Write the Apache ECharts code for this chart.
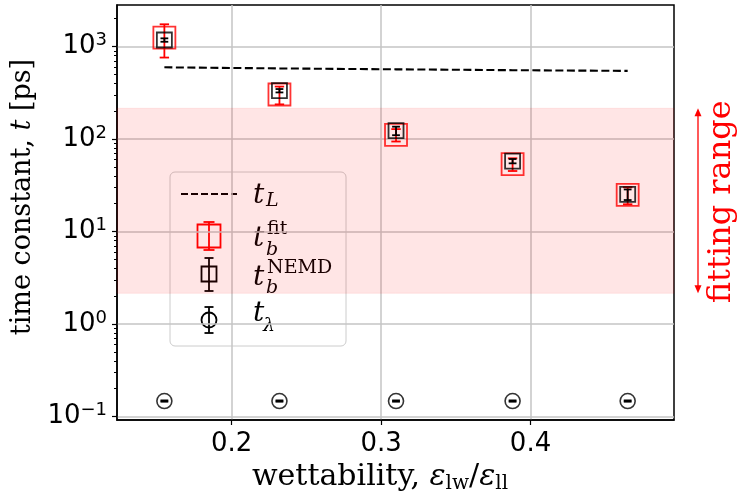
<!DOCTYPE html>
<html>
<head>
<meta charset="utf-8">
<script src="https://cdn.jsdelivr.net/npm/echarts@6/dist/echarts.min.js"></script>
<style>
  html, body { margin: 0; padding: 0; background: #fff; }
  #chart { width: 740px; height: 501px; }
</style>
</head>
<body>
<div id="chart"></div>
<script>
// wettability ratio eps_lw / eps_ll for each simulated wall
const wettability = [0.155, 0.232, 0.310, 0.388, 0.465];
// t_L : dashed reference line
const tL = [596, 580, 567, 555, 545];
// t_b from fitting (value, error)
const tbFit = [1250, 303, 111, 53.5, 24.9];
const tbFitErr = [490, 66, 17, 8.4, 5.2];
// t_b from NEMD (value, error)
const tbNemd = [1176, 333, 123, 57.7, 25.2];
const tbNemdErr = [50, 14, 13, 3.1, 3.3];
// t_lambda (value, error)
const tLambda = [0.147, 0.147, 0.147, 0.147, 0.147];
const tLambdaErr = [0.002, 0.002, 0.002, 0.002, 0.002];
// range of time constants used in the fit
const fittingRange = [2.15, 215];
// axis ticks
const xTicks = [0.2, 0.3, 0.4];
const yTicks = [0.1, 1, 10, 100, 1000];
const yMinorTicks = [0.2, 0.3, 0.4, 0.5, 0.6, 0.7, 0.8, 0.9,
  2, 3, 4, 5, 6, 7, 8, 9, 20, 30, 40, 50, 60, 70, 80, 90,
  200, 300, 400, 500, 600, 700, 800, 900, 2000];
const xRange = [0.1233, 0.496];
const yRange = [0.0917, 2812];

const RED = '#ff0000';
const BLACK = '#000000';
const SERIF = '"DejaVu Serif", serif';
const SANS = '"DejaVu Sans", sans-serif';

function withErr(values, errs) {
  return wettability.map((x, i) => [x, values[i], errs[i]]);
}

function errorBar(color, capHalf, lw) {
  return function (params, api) {
    const x = api.value(0), y = api.value(1), e = api.value(2);
    const top = api.coord([x, y + e]);
    const bot = api.coord([x, y - e]);
    const st = { stroke: color, lineWidth: lw };
    return {
      type: 'group',
      children: [
        { type: 'line', shape: { x1: top[0], y1: top[1], x2: bot[0], y2: bot[1] }, style: st },
        { type: 'line', shape: { x1: top[0] - capHalf, y1: top[1], x2: top[0] + capHalf, y2: top[1] }, style: st },
        { type: 'line', shape: { x1: bot[0] - capHalf, y1: bot[1], x2: bot[0] + capHalf, y2: bot[1] }, style: st }
      ]
    };
  };
}

// vertical double arrow + label beside the plot marking the fitting range
function rangeArrow(params, api) {
  const lo = api.coord([api.value(0), api.value(1)]);
  const hi = api.coord([api.value(0), api.value(2)]);
  const cs = params.coordSys;
  const ax = cs.x + cs.width + 24;
  const yTop = hi[1], yBot = lo[1];
  const head = 8, hw = 3.5;
  return {
    type: 'group',
    children: [
      { type: 'line', shape: { x1: ax, y1: yTop + 3, x2: ax, y2: yBot - 3 }, style: { stroke: RED, lineWidth: 1.3 } },
      { type: 'polygon', shape: { points: [[ax, yTop], [ax - hw, yTop + head], [ax + hw, yTop + head]] }, style: { fill: RED } },
      { type: 'polygon', shape: { points: [[ax, yBot], [ax - hw, yBot - head], [ax + hw, yBot - head]] }, style: { fill: RED } },
      {
        type: 'text', x: ax + 24, y: (yTop + yBot) / 2 + 1, rotation: Math.PI / 2,
        style: { text: 'fitting range', fill: RED, fontSize: 32, fontFamily: SERIF, align: 'center', verticalAlign: 'middle' }
      }
    ]
  };
}

function supLabel(v) {
  const e = Math.round(Math.log10(v));
  return '{b|10}{s|' + (e < 0 ? '\u2212' + (-e) : e) + '}';
}

// hand-drawn legend box
function legendGraphic() {
  const lx = 209;
  const items = [];
  items.push({ type: 'rect', shape: { x: 170, y: 172, width: 176, height: 174, r: 5 },
    style: { fill: 'rgba(255,255,255,0.8)', stroke: '#cccccc', lineWidth: 1 } });
  // dashed line
  items.push({ type: 'line', shape: { x1: 181, y1: 194, x2: 237, y2: 194 },
    style: { stroke: BLACK, lineWidth: 2, lineDash: [7, 3] } });
  const bar = (cx, y1, y2, cap, color) => [
    { type: 'line', shape: { x1: cx, y1: y1, x2: cx, y2: y2 }, style: { stroke: color, lineWidth: 1.8 } },
    { type: 'line', shape: { x1: cx - cap, y1: y1, x2: cx + cap, y2: y1 }, style: { stroke: color, lineWidth: 1.8 } },
    { type: 'line', shape: { x1: cx - cap, y1: y2, x2: cx + cap, y2: y2 }, style: { stroke: color, lineWidth: 1.8 } }
  ];
  // red square with bar
  items.push({ type: 'rect', shape: { x: lx - 11.5, y: 236 - 11.5, width: 23, height: 23 },
    style: { fill: 'none', stroke: RED, lineWidth: 1.8 } });
  items.push(...bar(lx, 222, 250, 5.5, RED));
  // black square with bar
  items.push({ type: 'rect', shape: { x: lx - 7.5, y: 274 - 7.5, width: 15, height: 15 },
    style: { fill: 'none', stroke: BLACK, lineWidth: 1.8 } });
  items.push(...bar(lx, 258, 291, 4.5, BLACK));
  // circle with bar
  items.push({ type: 'circle', shape: { cx: lx, cy: 320, r: 7.5 },
    style: { fill: 'none', stroke: BLACK, lineWidth: 1.8 } });
  items.push(...bar(lx, 307, 333, 4.5, BLACK));

  const txt = (x, y, s, size, italic) => ({
    type: 'text', x: x, y: y,
    style: { text: s, fill: BLACK, fontSize: size, fontFamily: SERIF,
      fontStyle: italic ? 'italic' : 'normal', align: 'left', verticalAlign: 'middle' }
  });
  items.push(txt(253, 196, 't', 28, true), txt(266, 201, 'L', 19, true));
  items.push(txt(253, 239, 't', 28, true), txt(266, 250, 'b', 19, true), txt(267, 229, 'fit', 19, false));
  items.push(txt(253, 278, 't', 28, true), txt(266, 288, 'b', 19, true), txt(267, 268, 'NEMD', 19, false));
  items.push(txt(253, 314, 't', 28, true), txt(263, 326, '\u03bb', 19, true));
  return items;
}

const chart = echarts.init(document.getElementById('chart'), null, { renderer: 'canvas' });

chart.setOption({
  animation: false,
  backgroundColor: '#ffffff',
  grid: {
    left: 117, right: 66, top: 5, bottom: 81,
    show: true, borderColor: BLACK, borderWidth: 1.5, backgroundColor: 'transparent'
  },
  xAxis: {
    type: 'value',
    min: xRange[0], max: xRange[1],
    name: '{r|wettability, }{i|\u03b5}{s|lw}{r|/}{i|\u03b5}{s|ll}',
    nameLocation: 'middle',
    nameGap: 38,
    nameTextStyle: {
      padding: [0, 31, 0, 0],
      rich: {
        r: { fontFamily: SERIF, fontSize: 30, color: BLACK, lineHeight: 33 },
        i: { fontFamily: SERIF, fontStyle: 'italic', fontSize: 30, color: BLACK, lineHeight: 33 },
        s: { fontFamily: SERIF, fontSize: 20, color: BLACK, lineHeight: 25, verticalAlign: 'bottom' }
      }
    },
    axisLine: { lineStyle: { color: BLACK, width: 1.5 } },
    axisTick: { customValues: xTicks, length: 5, lineStyle: { color: BLACK, width: 1.2 } },
    axisLabel: { customValues: xTicks, fontFamily: SANS, fontSize: 26, color: BLACK, margin: 11,
      formatter: v => v.toFixed(1) },
    splitLine: { show: true, lineStyle: { color: '#c4c4c4', width: 1.5 } }
  },
  yAxis: [{
    type: 'log',
    logBase: 10,
    min: yRange[0], max: yRange[1],
    name: '{r|time constant, }{i|t}{r| [ps]}',
    nameLocation: 'middle',
    nameGap: 76,
    nameTextStyle: {
      padding: [0, 0, 0, 31],
      rich: {
        r: { fontFamily: SERIF, fontSize: 27, color: BLACK },
        i: { fontFamily: SERIF, fontStyle: 'italic', fontSize: 27, color: BLACK }
      }
    },
    axisLine: { lineStyle: { color: BLACK, width: 1.5 } },
    axisTick: { customValues: yTicks, length: 5, lineStyle: { color: BLACK, width: 1.2 } },
    axisLabel: {
      customValues: yTicks, margin: 10,
      formatter: supLabel,
      rich: {
        b: { fontFamily: SANS, fontSize: 26, color: BLACK, lineHeight: 30 },
        s: { fontFamily: SANS, fontSize: 18, color: BLACK, lineHeight: 18, verticalAlign: 'top' }
      }
    },
    splitLine: { show: true, lineStyle: { color: '#c4c4c4', width: 1.5 } }
  }, {
    type: 'log',
    logBase: 10,
    min: yRange[0], max: yRange[1],
    position: 'left',
    axisLine: { show: false },
    axisTick: { customValues: yMinorTicks, length: 3, lineStyle: { color: BLACK, width: 1 } },
    axisLabel: { show: false },
    splitLine: { show: false }
  }],
  series: [
    {
      name: 'fitting range',
      type: 'custom',
      z: 1,
      clip: false,
      renderItem: rangeArrow,
      encode: { x: 0, y: [1, 2] },
      data: [[0.3, fittingRange[0], fittingRange[1]]],
      markArea: {
        silent: true,
        itemStyle: { color: 'rgba(255,0,0,0.1)', borderColor: 'rgba(255,0,0,0.08)', borderWidth: 1 },
        data: [[{ yAxis: fittingRange[0] }, { yAxis: fittingRange[1] }]]
      }
    },
    {
      name: 't_L',
      type: 'line',
      z: 3,
      showSymbol: false,
      symbol: 'none',
      lineStyle: { color: BLACK, width: 2.1, type: [8, 3.5] },
      data: wettability.map((x, i) => [x, tL[i]])
    },
    {
      name: 't_b fit error',
      type: 'custom',
      z: 4,
      renderItem: errorBar(RED, 4.7, 1.8),
      encode: { x: 0, y: 1 },
      data: withErr(tbFit, tbFitErr)
    },
    {
      name: 't_b fit',
      type: 'scatter',
      z: 4,
      symbol: 'rect',
      symbolSize: 22,
      itemStyle: { color: 'transparent', borderColor: RED, borderWidth: 1.8 },
      data: wettability.map((x, i) => [x, tbFit[i]])
    },
    {
      name: 't_b NEMD error',
      type: 'custom',
      z: 5,
      renderItem: errorBar(BLACK, 3.9, 1.8),
      encode: { x: 0, y: 1 },
      data: withErr(tbNemd, tbNemdErr)
    },
    {
      name: 't_b NEMD',
      type: 'scatter',
      z: 5,
      symbol: 'rect',
      symbolSize: 15,
      itemStyle: { color: 'transparent', borderColor: BLACK, borderWidth: 1.8 },
      data: wettability.map((x, i) => [x, tbNemd[i]])
    },
    {
      name: 't_lambda error',
      type: 'custom',
      z: 6,
      renderItem: errorBar(BLACK, 3.9, 2),
      encode: { x: 0, y: 1 },
      data: withErr(tLambda, tLambdaErr)
    },
    {
      name: 't_lambda',
      type: 'scatter',
      z: 6,
      symbol: 'circle',
      symbolSize: 15,
      itemStyle: { color: 'transparent', borderColor: BLACK, borderWidth: 1.6 },
      data: wettability.map((x, i) => [x, tLambda[i]])
    }
  ],
  graphic: legendGraphic()
});
</script>
</body>
</html>
